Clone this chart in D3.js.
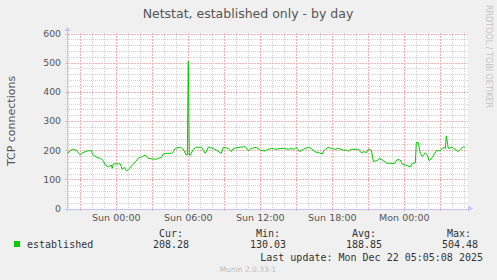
<!DOCTYPE html>
<html>
<head>
<meta charset="UTF-8">
<script src="https://d3js.org/d3.v7.min.js"></script>
<style>
  body { margin: 0; background: #f0f0f0; }
  svg { display: block; font-family: "DejaVu Sans", sans-serif; }
  .mono { font-family: "DejaVu Sans Mono", monospace; }
</style>
</head>
<body>
<svg id="chart" width="497" height="280"></svg>
<script>
// 5-minute samples
const times = [
  "2025-12-20 19:55", "2025-12-20 20:05", "2025-12-20 20:20", "2025-12-20 20:40", "2025-12-20 20:50",
  "2025-12-20 21:00", "2025-12-20 21:10", "2025-12-20 21:35", "2025-12-20 21:55", "2025-12-20 22:00",
  "2025-12-20 22:10", "2025-12-20 22:25", "2025-12-20 22:40", "2025-12-20 22:55", "2025-12-20 23:05",
  "2025-12-20 23:20", "2025-12-20 23:35", "2025-12-20 23:40", "2025-12-20 23:45", "2025-12-21 00:20",
  "2025-12-21 00:30", "2025-12-21 00:40", "2025-12-21 00:50", "2025-12-21 01:00", "2025-12-21 01:20",
  "2025-12-21 01:35", "2025-12-21 01:50", "2025-12-21 02:10", "2025-12-21 02:25", "2025-12-21 02:40",
  "2025-12-21 03:00", "2025-12-21 03:20", "2025-12-21 03:30", "2025-12-21 03:45", "2025-12-21 03:55",
  "2025-12-21 04:15", "2025-12-21 04:35", "2025-12-21 04:45", "2025-12-21 04:55", "2025-12-21 05:20",
  "2025-12-21 05:35", "2025-12-21 05:50", "2025-12-21 05:55", "2025-12-21 06:00", "2025-12-21 06:05",
  "2025-12-21 06:10", "2025-12-21 06:25", "2025-12-21 06:40", "2025-12-21 07:05", "2025-12-21 07:25",
  "2025-12-21 07:40", "2025-12-21 08:05", "2025-12-21 08:20", "2025-12-21 08:45", "2025-12-21 08:55",
  "2025-12-21 09:20", "2025-12-21 09:35", "2025-12-21 09:45", "2025-12-21 10:20", "2025-12-21 10:45",
  "2025-12-21 11:00", "2025-12-21 11:15", "2025-12-21 11:40", "2025-12-21 12:00", "2025-12-21 12:25",
  "2025-12-21 12:40", "2025-12-21 12:55", "2025-12-21 13:20", "2025-12-21 13:40", "2025-12-21 14:00",
  "2025-12-21 14:20", "2025-12-21 14:35", "2025-12-21 14:50", "2025-12-21 15:00", "2025-12-21 15:15",
  "2025-12-21 15:35", "2025-12-21 16:00", "2025-12-21 16:15", "2025-12-21 16:30", "2025-12-21 16:55",
  "2025-12-21 17:10", "2025-12-21 17:20", "2025-12-21 17:40", "2025-12-21 17:55", "2025-12-21 18:10",
  "2025-12-21 18:30", "2025-12-21 18:55", "2025-12-21 19:10", "2025-12-21 19:20", "2025-12-21 19:35",
  "2025-12-21 20:10", "2025-12-21 20:25", "2025-12-21 20:40", "2025-12-21 20:50", "2025-12-21 21:00",
  "2025-12-21 21:15", "2025-12-21 21:25", "2025-12-21 21:45", "2025-12-21 21:55", "2025-12-21 22:15",
  "2025-12-21 22:30", "2025-12-21 22:45", "2025-12-21 23:10", "2025-12-21 23:25", "2025-12-21 23:40",
  "2025-12-21 23:50", "2025-12-22 00:15", "2025-12-22 00:30", "2025-12-22 00:40", "2025-12-22 00:55",
  "2025-12-22 01:00", "2025-12-22 01:10", "2025-12-22 01:20", "2025-12-22 01:30", "2025-12-22 01:45",
  "2025-12-22 01:55", "2025-12-22 02:05", "2025-12-22 02:20", "2025-12-22 02:40", "2025-12-22 03:00",
  "2025-12-22 03:15", "2025-12-22 03:25", "2025-12-22 03:30", "2025-12-22 03:40", "2025-12-22 04:00",
  "2025-12-22 04:20", "2025-12-22 04:30", "2025-12-22 04:40", "2025-12-22 04:55", "2025-12-22 05:05"
];
const conns = [
  189, 195, 203, 200, 191,
  183, 191, 197, 199, 187,
  180, 175, 172, 164, 149,
  143, 149, 138, 153, 153,
  134, 141, 130.03, 132, 149,
  160, 172, 178, 183, 172,
  170, 169, 172, 175, 187,
  189, 189, 195, 206, 210,
  203, 183, 183, 504.48, 183,
  183, 203, 210, 210, 189,
  210, 206, 200, 189, 210,
  206, 195, 206, 210, 212,
  198, 206, 210, 200, 197,
  203, 206, 203, 206, 206,
  203, 206, 203, 210, 195,
  203, 210, 206, 195, 191,
  187, 200, 210, 206, 203,
  206, 200, 200, 197, 203,
  203, 191, 195, 191, 203,
  200, 162, 164, 172, 164,
  156, 155, 154, 168, 166,
  152, 147, 143, 155, 156,
  226, 226, 189, 178, 191,
  183, 164, 175, 198, 198,
  210, 206, 249, 206, 210,
  200, 195, 203, 212, 208.28
];
const yTicks = [0, 100, 200, 300, 400, 500, 600];
const xLabels = ["Sun 00:00", "Sun 06:00", "Sun 12:00", "Sun 18:00", "Mon 00:00"];
const legendHeads = ["Cur:", "Min:", "Avg:", "Max:"];
const legendValues = ["208.28", "130.03", "188.85", "504.48"];

const parse = d3.timeParse("%Y-%m-%d %H:%M");
const fmt = d3.timeFormat("%a %H:%M");
const data = times.map((t, i) => ({ t: parse(t), v: conns[i] }));

const svg = d3.select("#chart");
const pLeft = 67, pRight = 468, pTop = 33, pBottom = 209;

const x = d3.scaleTime()
  .domain([new Date(2025, 11, 20, 19, 53, 30), new Date(2025, 11, 22, 5, 18, 30)])
  .range([pLeft, pRight]);
const y = d3.scaleLinear().domain([0, 600]).range([pBottom - 0.5, pTop + 0.5]);
const px = v => Math.round(v) + 0.5;

// canvas
svg.append("rect").attr("x", pLeft).attr("y", pTop).attr("width", pRight - pLeft).attr("height", pBottom - pTop)
  .attr("fill", "#fff");

// grid: gray every hour / 20, red every 3 hours / 100
const minorCol = "#d2d2d2", majorCol = "#f6b2b2";
const hours = d3.timeHour.range(x.domain()[0], x.domain()[1]);
svg.append("g").selectAll("line").data(hours.filter(h => h.getHours() % 3 !== 0)).join("line")
  .attr("x1", d => px(x(d))).attr("x2", d => px(x(d)))
  .attr("y1", pTop).attr("y2", pBottom + 2)
  .attr("stroke", minorCol).attr("stroke-dasharray", "1,1");
svg.append("g").selectAll("line").data(d3.range(20, 600, 20).filter(v => v % 100 !== 0)).join("line")
  .attr("x1", pLeft - 2).attr("x2", pRight)
  .attr("y1", d => px(y(d))).attr("y2", d => px(y(d)))
  .attr("stroke", minorCol).attr("stroke-dasharray", "1,1");

svg.append("g").selectAll("line").data(hours.filter(h => h.getHours() % 3 === 0)).join("line")
  .attr("x1", d => px(x(d))).attr("x2", d => px(x(d)))
  .attr("y1", pTop).attr("y2", pBottom + 2)
  .attr("stroke", majorCol).attr("stroke-dasharray", "2,1");
svg.append("g").selectAll("line").data(yTicks.filter(v => v > 0)).join("line")
  .attr("x1", pLeft - 2).attr("x2", pRight)
  .attr("y1", d => px(y(d))).attr("y2", d => px(y(d)))
  .attr("stroke", majorCol).attr("stroke-dasharray", "2,1");

// axes
const axisCol = "#c4c4f4";
svg.append("line").attr("x1", pLeft - 2).attr("x2", pRight + 1).attr("y1", px(y(0))).attr("y2", px(y(0)))
  .attr("stroke", axisCol);
svg.append("line").attr("x1", pLeft + 0.5).attr("x2", pLeft + 0.5).attr("y1", pBottom + 2).attr("y2", pTop - 4)
  .attr("stroke", axisCol);
svg.append("path").attr("d", `M${pLeft - 2.5},${pTop - 2} L${pLeft + 0.5},${pTop - 6} L${pLeft + 3.5},${pTop - 2} Z`)
  .attr("fill", axisCol);
svg.append("path").attr("d", `M${pRight},${pBottom - 3.5} L${pRight + 5},${pBottom - 0.5} L${pRight},${pBottom + 2.5} Z`)
  .attr("fill", axisCol);

// y labels
svg.append("g").selectAll("text").data(yTicks).join("text")
  .attr("x", 61).attr("y", d => y(d)).attr("dy", "0.36em")
  .attr("text-anchor", "end").attr("font-size", "9.3px").attr("fill", "#555")
  .text(d => d);

// x labels
svg.append("g").selectAll("text")
  .data(hours.filter(h => xLabels.includes(fmt(h)))).join("text")
  .attr("x", d => x(d)).attr("y", 221)
  .attr("text-anchor", "middle").attr("font-size", "9.5px").attr("fill", "#555")
  .text(d => fmt(d));

// series
svg.append("path").datum(data)
  .attr("fill", "none").attr("stroke", "#00cc00").attr("stroke-width", 1)
  .attr("d", d3.line().x(d => x(d.t)).y(d => y(d.v)));

// titles
svg.append("text").attr("x", 248).attr("y", 18).attr("text-anchor", "middle")
  .attr("font-size", "12.5px").attr("fill", "#555")
  .text("Netstat, established only - by day");
svg.append("text").attr("transform", "translate(15,121) rotate(-90)").attr("text-anchor", "middle")
  .attr("font-size", "11px").attr("fill", "#555")
  .text("TCP connections");
svg.append("text").attr("transform", "translate(486,5) rotate(90)")
  .attr("font-size", "8px").attr("fill", "#c4c4c4")
  .text("RRDTOOL / TOBI OETIKER");

// legend
svg.append("rect").attr("x", 14).attr("y", 241).attr("width", 6).attr("height", 6).attr("fill", "#00cc00");
svg.append("text").attr("class", "mono").attr("x", 27).attr("y", 248)
  .attr("font-size", "10px").attr("fill", "#333").text("established");
const colX = [159, 256, 352, 447];
const valX = [153, 250, 346, 442];
svg.append("g").selectAll("text").data(legendHeads).join("text").attr("class", "mono")
  .attr("x", (d, i) => colX[i]).attr("y", 237).attr("font-size", "10px").attr("fill", "#333").text(d => d);
svg.append("g").selectAll("text").data(legendValues).join("text").attr("class", "mono")
  .attr("x", (d, i) => valX[i]).attr("y", 248).attr("font-size", "10px").attr("fill", "#333").text(d => d);
svg.append("text").attr("class", "mono").attr("x", 483).attr("y", 261).attr("text-anchor", "end")
  .attr("font-size", "10px").attr("fill", "#333").text("Last update: Mon Dec 22 05:05:08 2025");
svg.append("text").attr("x", 248).attr("y", 272).attr("text-anchor", "middle")
  .attr("font-size", "7.5px").attr("fill", "#bdbdbd").text("Munin 2.0.33-1");
</script>
</body>
</html>
